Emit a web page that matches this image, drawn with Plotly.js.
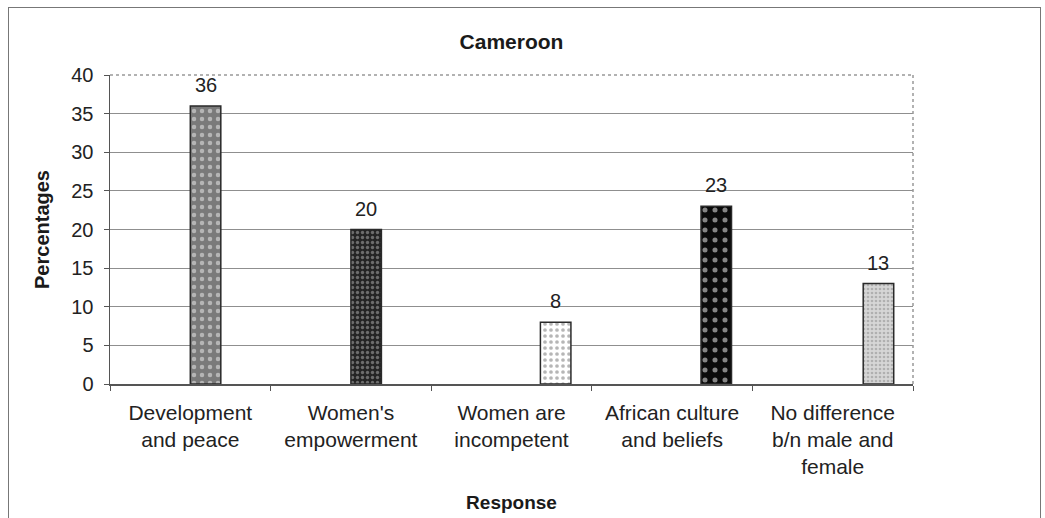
<!DOCTYPE html>
<html>
<head>
<meta charset="utf-8">
<script src="https://cdn.plot.ly/plotly-3.0.1.min.js"></script>
<style>
html,body{margin:0;padding:0;background:#fff;}
#wrap{position:relative;width:1045px;height:518px;}
#chart{width:1045px;height:518px;}
#frame{position:absolute;left:8px;top:7px;width:1031px;height:530px;border:1px solid #777;pointer-events:none;}
</style>
</head>
<body>
<div id="wrap"><div id="chart"></div><div id="frame"></div></div>
<script>
const categories = [
  "Development<br>and peace",
  "Women's<br>empowerment",
  "Women are<br>incompetent",
  "African culture<br>and beliefs",
  "No difference<br>b/n male and<br>female"
];
const percentages = [36, 20, 8, 23, 13];
const yTickValues = [0, 5, 10, 15, 20, 25, 30, 35, 40];

const barWidth = 0.19;
const barOffsets = [0, 0, 0.18, 0.18, 0.19];
const patternBg = ["#7a7a7a", "#242424", "#ffffff", "#0a0a0a", "#d6d6d6"];
const patternFg = ["#f0f0f0", "#b5b5b5", "#6e6e6e", "#ffffff", "#8a8a8a"];
const patternSize = [8, 5, 6, 10, 4];
const patternSolidity = [0.25, 0.35, 0.3, 0.2, 0.35];

const font = "Liberation Sans, Arial, sans-serif";
const M = {l: 110, r: 132, t: 75, b: 134};
const catPx = (1045 - M.l - M.r) / categories.length;

const traces = categories.map((c, i) => ({
  type: "bar",
  x: [c],
  y: [percentages[i]],
  width: barWidth,
  offset: barOffsets[i],
  marker: {
    color: patternBg[i],
    line: {color: "#2a2a2a", width: 1.5},
    pattern: {shape: ".", fgcolor: patternFg[i], size: patternSize[i], solidity: patternSolidity[i], fillmode: "overlay"}
  },
  hoverinfo: "skip"
}));

const labels = categories.map((c, i) => ({
  x: c, y: percentages[i], xref: "x", yref: "y",
  xshift: (barOffsets[i] + barWidth / 2) * catPx,
  yshift: 8,
  yanchor: "bottom", xanchor: "center",
  text: String(percentages[i]), showarrow: false,
  font: {family: font, size: 20, color: "#222"}
}));

const layout = {
  width: 1045, height: 518,
  margin: M,
  paper_bgcolor: "#fff", plot_bgcolor: "#fff",
  font: {family: font, color: "#222"},
  showlegend: false,
  barmode: "overlay",
  title: {
    text: "<b>Cameroon</b>",
    font: {family: font, size: 21, color: "#1a1a1a"},
    x: 0.5, xref: "paper", xanchor: "center",
    y: 1 - 42/518, yref: "container", yanchor: "middle"
  },
  xaxis: {
    type: "category",
    categoryarray: categories, categoryorder: "array",
    tickson: "boundaries",
    ticks: "outside", ticklen: 5, tickcolor: "#555",
    showline: true, linecolor: "#555", linewidth: 1.5,
    showgrid: false,
    tickfont: {family: font, size: 21, color: "#222"},
    ticklabelstandoff: 9,
    title: {text: "<b>Response</b>", font: {family: font, size: 19, color: "#1a1a1a"}, standoff: 18},
    automargin: false
  },
  yaxis: {
    range: [0, 40],
    tickvals: yTickValues,
    ticks: "outside", ticklen: 5, tickcolor: "#555",
    showline: true, linecolor: "#555", linewidth: 1.5,
    showgrid: true, gridcolor: "#8f8f8f", gridwidth: 1,
    zeroline: false,
    tickfont: {family: font, size: 20, color: "#222"},
    ticklabelstandoff: 6,
    title: {text: "<b>Percentages</b>", font: {family: font, size: 20, color: "#1a1a1a"}, standoff: 16},
    automargin: false
  },
  annotations: labels,
  shapes: [
    {type: "line", xref: "paper", yref: "paper", x0: 0, x1: 1, y0: 1, y1: 1, line: {color: "#999", width: 1.5, dash: "dot"}},
    {type: "line", xref: "paper", yref: "paper", x0: 1, x1: 1, y0: 0, y1: 1, line: {color: "#999", width: 1.5, dash: "dot"}}
  ]
};

Plotly.newPlot("chart", traces, layout, {displayModeBar: false, staticPlot: true});
</script>
</body>
</html>
